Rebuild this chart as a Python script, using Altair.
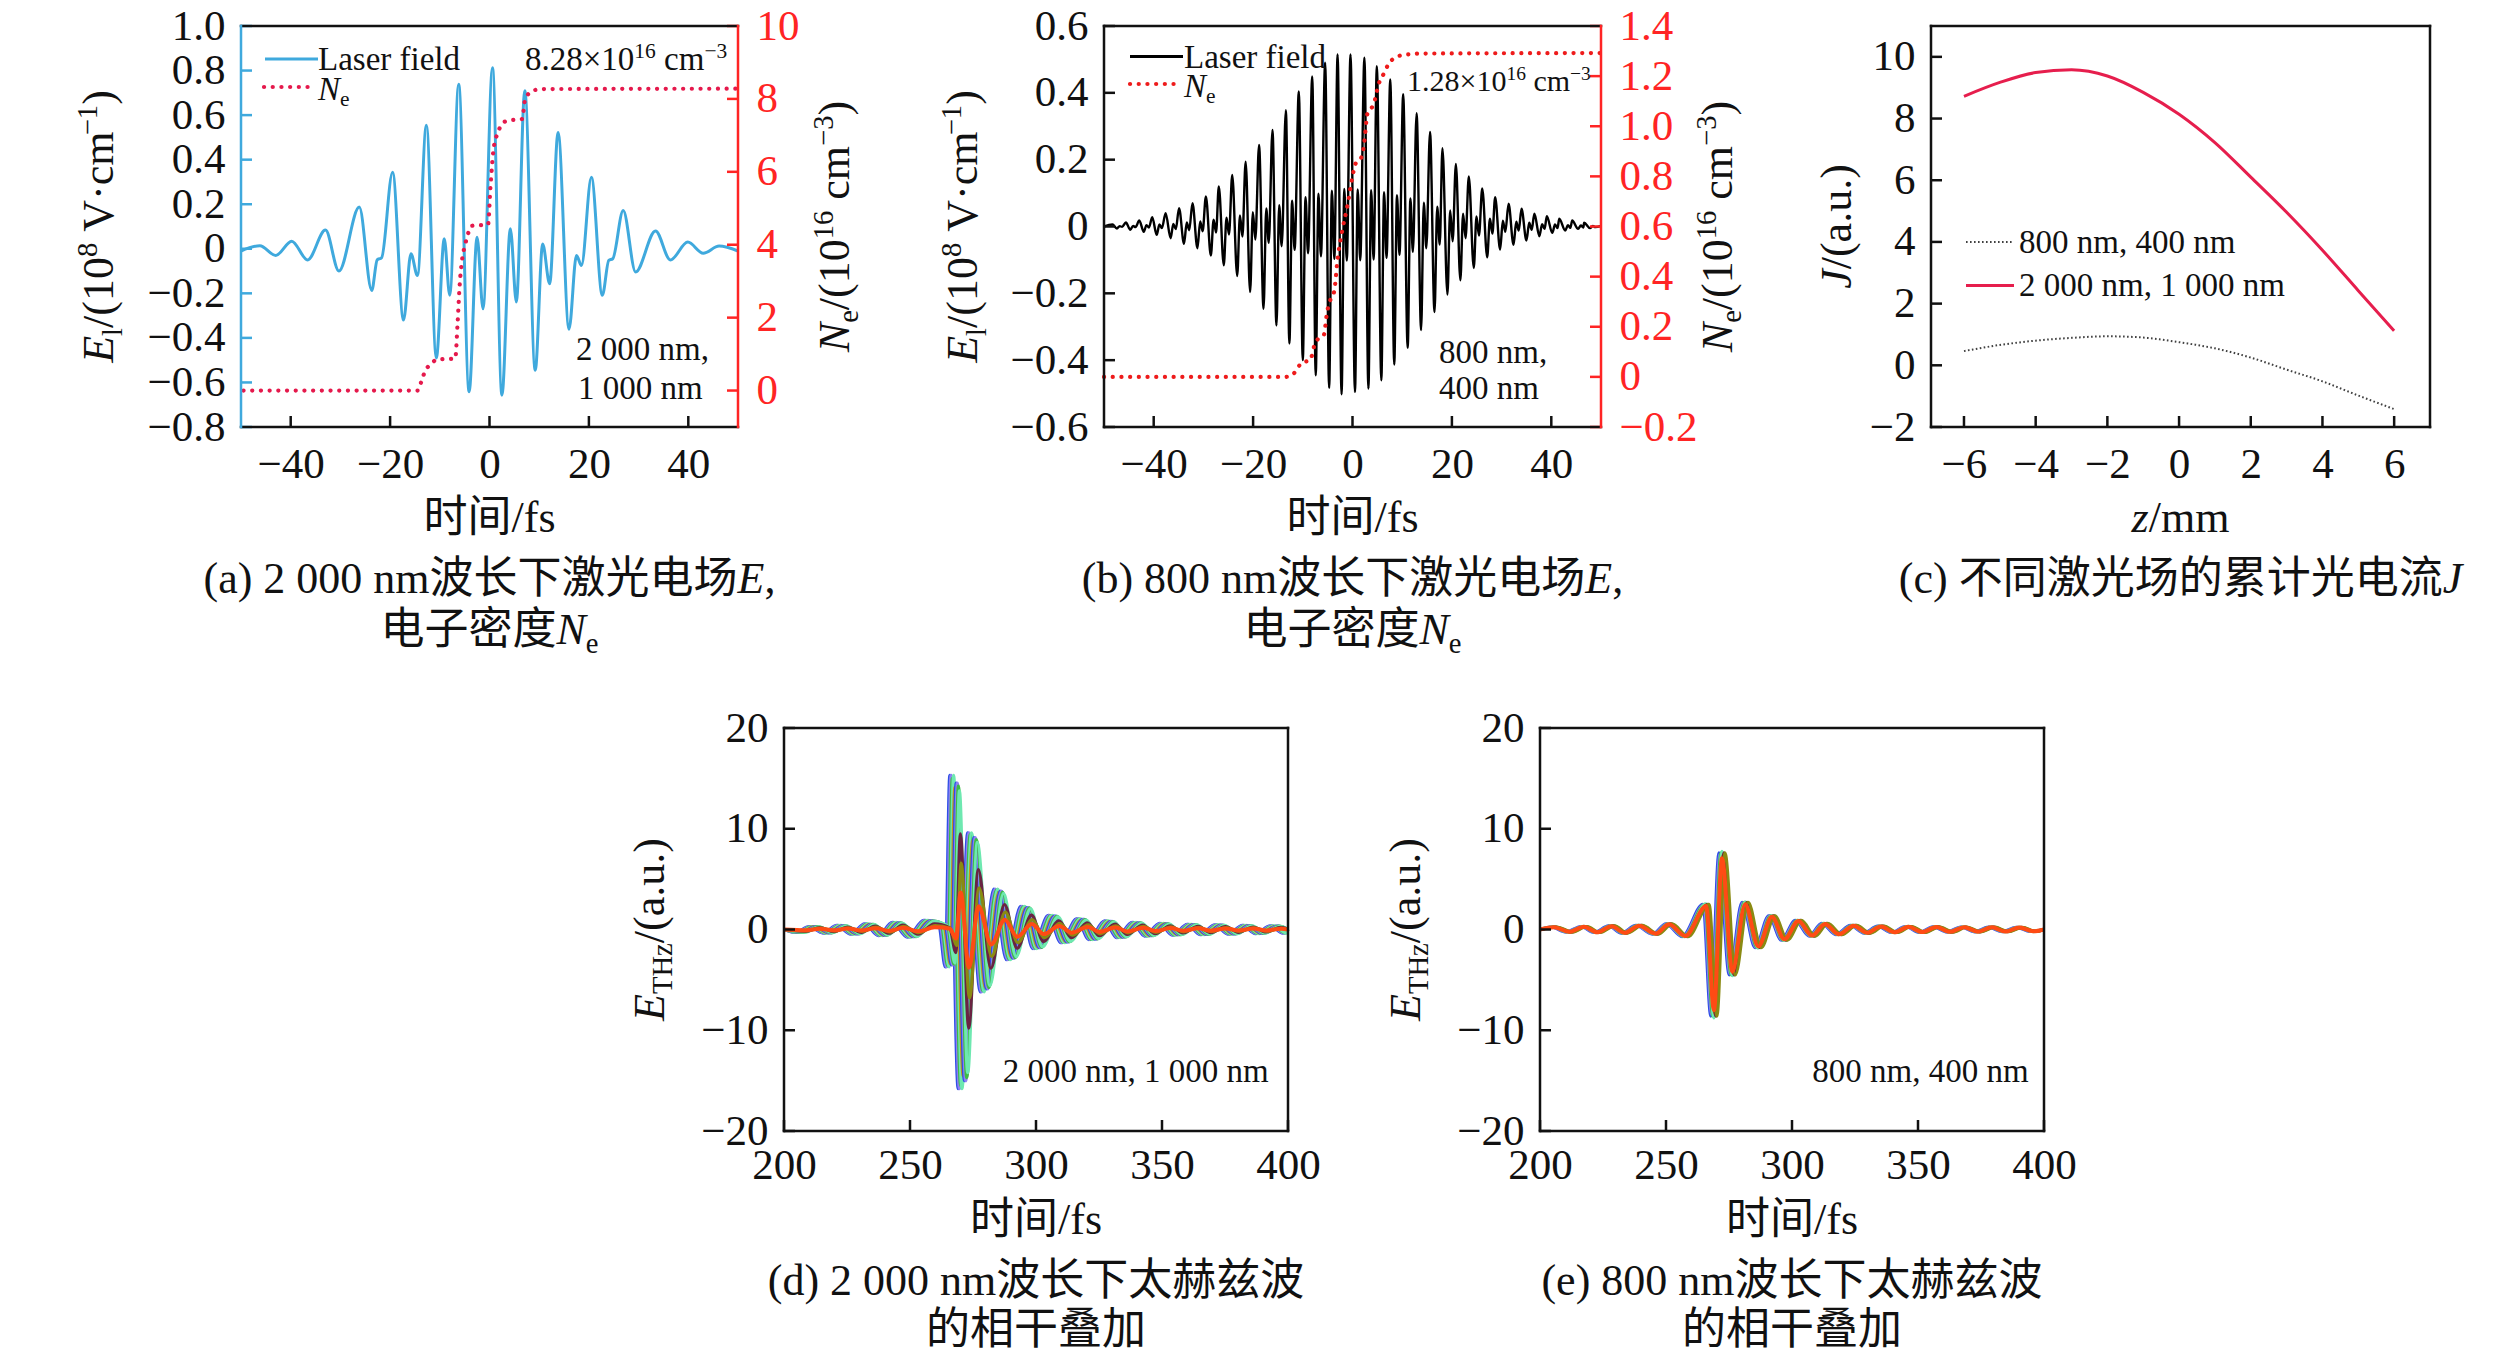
import altair as alt
import pandas as pd

W, H = 2504, 1346
OFF = 8
SERIF = "Liberation Serif"
FONT = "Liberation Serif, Noto Sans CJK SC"
INK = "#111111"

# ---------------- panel (a): laser field 2000 nm + 1000 nm (extrema) -------------
A_T = [-50.0, -46.2, -43.0, -39.8, -36.6, -33.0, -30.3, -26.2, -23.7, -22.6, -21.7, -19.5,
       -17.3, -15.8, -14.5, -12.7, -10.7, -9.1, -8.0, -6.2, -4.1, -2.5, -1.3, 0.6, 2.5, 4.2,
       5.4, 7.1, 9.2, 10.7, 12.1, 13.8, 16.0, 17.5, 18.5, 20.5, 22.7, 24.0, 24.8, 26.9, 29.4,
       33.4, 36.4, 39.9, 43.0, 46.2, 50.0]
A_E = [-0.010, 0.014, -0.030, 0.034, -0.050, 0.084, -0.100, 0.187, -0.187, -0.050, -0.040, 0.343,
       -0.320, -0.022, -0.120, 0.555, -0.490, 0.045, -0.209, 0.739, -0.642, 0.052, -0.269, 0.813, -0.657, 0.090,
       -0.239, 0.709, -0.545, 0.022, -0.157, 0.522, -0.361, -0.030, -0.075, 0.321, -0.209, -0.052, -0.045, 0.172, -0.104,
       0.080, -0.050, 0.030, -0.020, 0.012, -0.010]
A_NE_T = [-49.5, -14.4, -13.6, -12.9, -11.8, -10.6, -6.9, -6.4, -6.0, -5.5, -4.9, -4.2, -3.5, -0.3,
          0.2, 0.8, 1.6, 2.5, 3.5, 6.6, 7.1, 7.9, 9.0, 11.0, 49.5]
A_NE_V = [0.0, 0.0, 0.3, 0.55, 0.72, 0.85, 0.88, 1.9, 2.9, 3.6, 4.0, 4.35, 4.52, 4.55,
          5.6, 6.6, 7.05, 7.3, 7.4, 7.45, 7.95, 8.15, 8.24, 8.27, 8.28]

# ---------------- panel (b): laser field 800 nm + 400 nm ----------------
B_PEAK_T = [-48.3, -45.6, -42.9, -40.3, -37.6, -34.9, -32.2, -29.5, -26.9, -24.2, -21.5, -18.8, -16.1,
            -13.4, -10.8, -8.1, -5.5, -3.0, -0.4, 2.4, 4.9, 7.6, 10.2, 12.9, 15.6, 18.1, 20.8, 23.4,
            26.1, 28.7, 31.4, 34.0, 36.6, 39.1, 41.6, 44.2, 46.6]
B_PEAK_V = [0.006, 0.012, 0.018, 0.028, 0.040, 0.055, 0.070, 0.090, 0.120, 0.154, 0.194, 0.244, 0.289,
            0.348, 0.404, 0.449, 0.490, 0.515, 0.515, 0.505, 0.480, 0.440, 0.396, 0.339, 0.283, 0.234,
            0.187, 0.150, 0.114, 0.088, 0.068, 0.053, 0.038, 0.031, 0.023, 0.018, 0.011]
B_TROUGH_T = [-47.4, -44.7, -42.0, -39.4, -36.6, -33.9, -31.2, -28.5, -25.9, -23.2, -20.6, -17.9, -15.3,
              -12.7, -10.0, -7.4, -4.7, -2.2, 0.5, 3.2, 5.8, 8.4, 11.1, 13.8, 16.5, 19.1, 21.7, 24.4,
              27.1, 29.7, 32.4, 35.0, 37.6, 40.2, 42.8, 45.4, 47.8]
B_TROUGH_V = [-0.006, -0.010, -0.016, -0.025, -0.035, -0.052, -0.065, -0.087, -0.116, -0.148, -0.196,
              -0.246, -0.296, -0.350, -0.400, -0.445, -0.483, -0.502, -0.495, -0.485, -0.460, -0.413,
              -0.363, -0.310, -0.256, -0.204, -0.161, -0.124, -0.092, -0.069, -0.055, -0.042, -0.029,
              -0.019, -0.012, -0.007, -0.005]
B_BUMP_T = [-46.85, -44.15, -41.45, -38.85, -36.05, -33.35, -30.65, -27.95, -25.35, -22.65, -20.05,
            -17.35, -14.75, -12.15, -9.45, -6.85, -4.15, -1.65, 1.05, 3.75, 6.35, 8.95, 11.65, 14.35,
            17.05, 19.65, 22.25, 24.95, 27.65, 30.25, 32.95, 35.55, 38.15, 40.75, 43.35, 45.95, 48.35]
B_BUMP_V = [0.001, 0.002, 0.004, 0.006, 0.008, 0.012, 0.015, 0.020, 0.026, 0.033, 0.043, 0.054, 0.064,
            0.077, 0.088, 0.098, 0.107, 0.112, 0.111, 0.109, 0.103, 0.094, 0.084, 0.071, 0.059, 0.048,
            0.038, 0.030, 0.023, 0.017, 0.014, 0.011, 0.007, 0.006, 0.004, 0.003, 0.002]
B_DIP_T = [-46.35, -43.65, -40.95, -38.35, -35.55, -32.85, -30.15, -27.45, -24.85, -22.15, -19.55,
           -16.85, -14.25, -11.65, -8.95, -6.35, -3.65, -1.15, 1.55, 4.25, 6.85, 9.45, 12.15, 14.85,
           17.55, 20.15, 22.75, 25.45, 28.15, 30.75, 33.45, 36.05, 38.65, 41.25, 43.85, 46.45, 48.85]
B_DIP_V = [-0.001, -0.002, -0.003, -0.005, -0.008, -0.011, -0.014, -0.018, -0.024, -0.030, -0.039,
           -0.049, -0.059, -0.070, -0.080, -0.089, -0.097, -0.102, -0.101, -0.099, -0.094, -0.085,
           -0.076, -0.065, -0.054, -0.044, -0.035, -0.027, -0.021, -0.016, -0.012, -0.010, -0.007,
           -0.005, -0.004, -0.003, -0.002]
B_NE_T = [-50.0, -13.5, -12.0, -11.2, -10.3, -8.5, -7.6, -7.0, -5.8, -5.1, -4.4, -3.7, -3.0, -2.0,
          -1.0, 0.0, 0.6, 1.9, 2.4, 3.0, 4.3, 5.3, 6.3, 7.3, 8.7, 10.4, 14.0, 50.0]
B_NE_V = [0.0, 0.0, 0.01, 0.03, 0.055, 0.068, 0.13, 0.15, 0.165, 0.26, 0.31, 0.34, 0.47, 0.59,
          0.685, 0.80, 0.85, 0.88, 0.94, 1.05, 1.09, 1.17, 1.21, 1.25, 1.275, 1.285, 1.29, 1.292]

# ---------------- panel (c): accumulated photocurrent ----------------
C_Z = [-6, -5, -4, -3, -2, -1, 0, 1, 2, 3, 4, 5, 6]
C_J2000 = [8.72, 9.17, 9.49, 9.58, 9.38, 8.85, 8.14, 7.22, 6.10, 4.96, 3.73, 2.42, 1.12]
C_J800 = [0.46, 0.66, 0.80, 0.89, 0.94, 0.90, 0.75, 0.55, 0.25, -0.14, -0.52, -0.98, -1.42]

# ---------------- panel (d): THz waveform, 2000 nm (leading curve extrema) ----------------
D_T = [204.5, 210.0, 215.5, 221.0, 226.5, 232.0, 237.5, 243.0, 249.0, 255.5, 261.5, 264.0, 265.8,
       269.1, 272.9, 277.9, 283.3, 288.3, 294.0, 298.8, 304.9, 309.9, 316.2, 321.0, 327.2, 332.0,
       338.2, 343.1, 349.1, 354.1, 360.1, 365.1, 371.0, 376.1, 382.0, 387.1, 393.0, 398.0]
D_E = [-0.3, 0.3, -0.35, 0.4, -0.45, 0.55, -0.6, 0.7, -0.75, 0.9, 0.3, -3.7, 15.3,
       -15.8, 9.6, -6.2, 4.0, -3.0, 2.3, -1.9, 1.4, -1.3, 1.05, -1.0, 0.85, -0.8,
       0.7, -0.65, 0.6, -0.55, 0.5, -0.5, 0.45, -0.45, 0.4, -0.4, 0.35, -0.35]
D_SHIFT = [0.0, 0.5, 1.0, 1.5, 2.0, 2.5, 3.0, 3.4, 3.8, 4.2, 4.5]
D_SCALE = [1.0, 1.0, 0.98, 1.0, 0.92, 0.95, 0.95, 0.93, 0.90, 0.62, 0.43]
D_ORANGE = (4.3, 0.24)

# ---------------- panel (e): THz waveform, 800 nm ----------------
E_T = [204.3, 210.4, 216.2, 221.4, 227.2, 232.3, 238.1, 244.6, 250.0, 256.4, 264.7, 267.8, 271.0,
       275.1, 280.2, 285.4, 290.8, 295.8, 301.3, 306.8, 311.8, 317.4, 323.2, 328.6, 334.0, 339.5,
       345.0, 350.5, 356.0, 361.5, 367.0, 372.5, 378.0, 383.5, 389.0, 394.5]
E_E = [0.25, -0.25, 0.3, -0.3, 0.35, -0.35, 0.4, -0.45, 0.55, -0.7, 2.5, -8.6, 7.6,
       -4.5, 2.7, -1.8, 1.35, -1.05, 0.9, -0.65, 0.6, -0.5, 0.4, -0.35, 0.33, -0.3,
       0.3, -0.28, 0.27, -0.25, 0.25, -0.23, 0.23, -0.22, 0.22, -0.2]
E_SHIFT = [0.0, 0.4, 0.8, 1.2, 1.6, 2.0, 2.4]
E_SCALE = [1.0, 0.98, 1.0, 1.02, 0.97, 1.0, 1.0]
E_ORANGE = (1.2, 0.93)

# ---------------- tick values ----------------
AB_XTICKS = [-40, -20, 0, 20, 40]
A_YL_TICKS = [-0.8, -0.6, -0.4, -0.2, 0, 0.2, 0.4, 0.6, 0.8, 1.0]
A_YR_TICKS = [0, 2, 4, 6, 8, 10]
B_YL_TICKS = [-0.6, -0.4, -0.2, 0, 0.2, 0.4, 0.6]
B_YR_TICKS = [-0.2, 0, 0.2, 0.4, 0.6, 0.8, 1.0, 1.2, 1.4]
C_XTICKS = [-6, -4, -2, 0, 2, 4, 6]
C_YTICKS = [-2, 0, 2, 4, 6, 8, 10]
DE_XTICKS = [200, 250, 300, 350, 400]
DE_YTICKS = [-20, -10, 0, 10, 20]

# ---------------- colours ----------------
A_BLUE = "#3FA9DD"
A_NE = "#E5194C"
B_NE = "#EE1B1B"
RED_AX = "#FF2424"
C_RED = "#E61E4D"
C_DOT = "#404040"
BLUE, LAV, GRN, MINT, GOLD, MAR, OLV, ORG = ("#2E4FE6", "#8E7FF2", "#3DBB45", "#6EE8B0",
                                            "#C8901E", "#6A2342", "#8A8A12", "#FF4B14")
D_COLORS = [BLUE, LAV, GRN, MINT, GOLD, BLUE, LAV, GRN, MINT, MAR, OLV]
E_COLORS = [BLUE, LAV, GRN, MINT, GOLD, MAR, OLV]

# ---------------- layout (reference pixels) ----------------
BOX = {"a": (241, 738, 26, 427), "b": (1104, 1601, 26, 427), "c": (1931, 2430, 26, 427),
       "d": (784, 1288, 728, 1131), "e": (1540, 2044, 728, 1131)}


def box(p):
    x0, x1, y0, y1 = BOX[p]
    return x0 - OFF, x1 - OFF, y0 - OFF, y1 - OFF


def sx(p, dom):
    x0, x1, _, _ = box(p)
    return alt.Scale(domain=dom, range=[x0, x1], nice=False, zero=False)


def sy(p, dom):
    _, _, y0, y1 = box(p)
    return alt.Scale(domain=dom, range=[y1, y0], nice=False, zero=False)


BASE_AX = dict(labelFont=SERIF, labelFontSize=43, domain=False, ticks=False, tickSize=0, grid=False,
               labelFlush=False, labelOverlap=False, title=None)
DEC = "datum.value == 0 ? '0' : format(datum.value, '.1f')"


def ax_bottom(p, vals, pad):
    _, _, _, y1 = box(p)
    return alt.Axis(orient="bottom", offset=y1 - H, values=vals, labelPadding=pad,
                    labelColor=INK, format="d", **BASE_AX)


def ax_left(p, vals, expr=None):
    x0, _, _, _ = box(p)
    kw = dict(orient="left", offset=-x0, values=vals, labelPadding=16, labelColor=INK)
    if expr:
        kw["labelExpr"] = expr
    else:
        kw["format"] = "d"
    return alt.Axis(**kw, **BASE_AX)


def ax_right(p, vals, color, expr=None):
    _, x1, _, _ = box(p)
    kw = dict(orient="right", offset=x1 - W, values=vals, labelPadding=18, labelColor=color)
    if expr:
        kw["labelExpr"] = expr
    else:
        kw["format"] = "d"
    return alt.Axis(**kw, **BASE_AX)


def tick_layer(p, side, vals, scale, color):
    x0, x1, y0, y1 = box(p)
    df = pd.DataFrame({"v": vals})
    m = alt.Chart(df).mark_rule(color=color, strokeWidth=2.5)
    if side == "bottom":
        return m.encode(x=alt.X("v:Q", scale=scale, axis=None), y=alt.value(y1), y2=alt.value(y1 - 11))
    if side == "left":
        return m.encode(y=alt.Y("v:Q", scale=scale, axis=None), x=alt.value(x0), x2=alt.value(x0 + 11))
    return m.encode(y=alt.Y("v:Q", scale=scale, axis=None), x=alt.value(x1), x2=alt.value(x1 - 11))


layers = []

# ---- panel (a)
AX, AYL, AYR = sx("a", [-50, 50]), sy("a", [-0.8, 1.0]), sy("a", [-1, 10])
layers.append(alt.Chart(pd.DataFrame({"t": A_T, "e": A_E})).mark_line(
    color=A_BLUE, strokeWidth=3, interpolate="monotone").encode(
    x=alt.X("t:Q", scale=AX, axis=ax_bottom("a", AB_XTICKS, 16)),
    y=alt.Y("e:Q", scale=AYL, axis=ax_left("a", A_YL_TICKS, DEC))))
layers.append(alt.Chart(pd.DataFrame({"t": A_NE_T, "n": A_NE_V})).mark_line(
    color=A_NE, strokeWidth=4.2, strokeDash=[0.1, 8.6], strokeCap="round", interpolate="monotone").encode(
    x=alt.X("t:Q", scale=AX, axis=None),
    y=alt.Y("n:Q", scale=AYR, axis=ax_right("a", A_YR_TICKS, RED_AX))))
layers += [tick_layer("a", "bottom", AB_XTICKS, AX, INK),
           tick_layer("a", "left", A_YL_TICKS, AYL, A_BLUE),
           tick_layer("a", "right", A_YR_TICKS, AYR, RED_AX)]

# ---- panel (b)
b_t, b_v = [-50.0], [0.0]
for k in range(len(B_PEAK_T)):
    b_t += [B_PEAK_T[k], B_TROUGH_T[k], B_BUMP_T[k], B_DIP_T[k]]
    b_v += [B_PEAK_V[k], B_TROUGH_V[k], B_BUMP_V[k], B_DIP_V[k]]
b_t.append(50.0)
b_v.append(0.002)
BX, BYL, BYR = sx("b", [-50, 50]), sy("b", [-0.6, 0.6]), sy("b", [-0.2, 1.4])
layers.append(alt.Chart(pd.DataFrame({"t": b_t, "e": b_v})).mark_line(
    color="#000000", strokeWidth=2.4, interpolate="monotone").encode(
    x=alt.X("t:Q", scale=BX, axis=ax_bottom("b", AB_XTICKS, 16)),
    y=alt.Y("e:Q", scale=BYL, axis=ax_left("b", B_YL_TICKS, DEC))))
layers.append(alt.Chart(pd.DataFrame({"t": B_NE_T, "n": B_NE_V})).mark_line(
    color=B_NE, strokeWidth=4.2, strokeDash=[0.1, 8.6], strokeCap="round", interpolate="monotone").encode(
    x=alt.X("t:Q", scale=BX, axis=None),
    y=alt.Y("n:Q", scale=BYR, axis=ax_right("b", B_YR_TICKS, RED_AX, DEC))))
layers += [tick_layer("b", "bottom", AB_XTICKS, BX, INK),
           tick_layer("b", "left", B_YL_TICKS, BYL, INK),
           tick_layer("b", "right", B_YR_TICKS, BYR, RED_AX)]

# ---- panel (c)
CX, CY = sx("c", [-6.92, 7.0]), sy("c", [-2, 11])
layers.append(alt.Chart(pd.DataFrame({"z": C_Z, "j": C_J2000})).mark_line(
    color=C_RED, strokeWidth=3, interpolate="monotone").encode(
    x=alt.X("z:Q", scale=CX, axis=ax_bottom("c", C_XTICKS, 16)),
    y=alt.Y("j:Q", scale=CY, axis=ax_left("c", C_YTICKS))))
layers.append(alt.Chart(pd.DataFrame({"z": C_Z, "j": C_J800})).mark_line(
    color=C_DOT, strokeWidth=2, strokeDash=[1.6, 2.4], interpolate="monotone").encode(
    x=alt.X("z:Q", scale=CX, axis=None), y=alt.Y("j:Q", scale=CY, axis=None)))
layers += [tick_layer("c", "bottom", C_XTICKS, CX, INK), tick_layer("c", "left", C_YTICKS, CY, INK)]


# ---- panels (d), (e)
def bundle(base_t, base_e, shifts, scales, colors, tag):
    rows = []
    for i, (s, a, c) in enumerate(zip(shifts, scales, colors)):
        cid = f"{tag}{i:02d}"
        rows.append(dict(cid=cid, col=c, t=200.0, e=0.0))
        for t, e in zip(base_t, base_e):
            if 200 < t + s < 400:
                rows.append(dict(cid=cid, col=c, t=t + s, e=e * a))
        rows.append(dict(cid=cid, col=c, t=400.0, e=0.0))
    return pd.DataFrame(rows)


for p, bt, be, shifts, scales, colors, orange in [
        ("d", D_T, D_E, D_SHIFT, D_SCALE, D_COLORS, D_ORANGE),
        ("e", E_T, E_E, E_SHIFT, E_SCALE, E_COLORS, E_ORANGE)]:
    PX, PY = sx(p, [200, 400]), sy(p, [-20, 20])
    layers.append(alt.Chart(bundle(bt, be, shifts, scales, colors, p)).mark_line(
        strokeWidth=3.2, interpolate="monotone").encode(
        x=alt.X("t:Q", scale=PX, axis=ax_bottom(p, DE_XTICKS, 13)),
        y=alt.Y("e:Q", scale=PY, axis=ax_left(p, DE_YTICKS)),
        color=alt.Color("col:N", scale=None), detail="cid:N"))
    layers.append(alt.Chart(bundle(bt, be, [orange[0]], [orange[1]], [ORG], p + "o")).mark_line(
        strokeWidth=4, color=ORG, interpolate="monotone").encode(
        x=alt.X("t:Q", scale=PX, axis=None), y=alt.Y("e:Q", scale=PY, axis=None)))
    layers += [tick_layer(p, "bottom", DE_XTICKS, PX, INK), tick_layer(p, "left", DE_YTICKS, PY, INK)]

# ---- box edges
edges = []
for p, lc, rc in [("a", A_BLUE, RED_AX), ("b", INK, RED_AX), ("c", INK, INK), ("d", INK, INK), ("e", INK, INK)]:
    x0, x1, y0, y1 = box(p)
    edges += [dict(x=x0, x2=x1, y=y0, y2=y0, c=INK), dict(x=x0, x2=x1, y=y1, y2=y1, c=INK),
              dict(x=x0, x2=x0, y=y0, y2=y1, c=lc), dict(x=x1, x2=x1, y=y0, y2=y1, c=rc)]
layers.append(alt.Chart(pd.DataFrame(edges)).mark_rule(strokeWidth=2.5, strokeCap="square").encode(
    x=alt.X("x:Q", scale=None, axis=None), x2="x2:Q",
    y=alt.Y("y:Q", scale=None, axis=None), y2="y2:Q",
    color=alt.Color("c:N", scale=None)))

# ---- legend samples
samples = [dict(x=265, x2=318, y=59, c=A_BLUE), dict(x=1130, x2=1183, y=56.5, c="#000000"),
           dict(x=1966, x2=2014, y=285.5, c=C_RED)]
for s in samples:
    s["x"] -= OFF; s["x2"] -= OFF; s["y"] -= OFF
layers.append(alt.Chart(pd.DataFrame(samples)).mark_rule(strokeWidth=3).encode(
    x=alt.X("x:Q", scale=None, axis=None), x2="x2:Q", y=alt.Y("y:Q", scale=None, axis=None),
    color=alt.Color("c:N", scale=None)))
for (xa, xb, yy, col, sw, dash) in [(264, 312, 87, A_NE, 4.2, [0.1, 8.6]),
                                    (1130, 1177, 84, B_NE, 4.2, [0.1, 8.6]),
                                    (1966, 2014, 242, C_DOT, 2, [1.6, 2.4])]:
    layers.append(alt.Chart(pd.DataFrame({"k": [0]})).mark_rule(
        color=col, strokeWidth=sw, strokeDash=dash, strokeCap="round" if sw > 3 else "butt").encode(
        x=alt.value(xa - OFF), x2=alt.value(xb - OFF), y=alt.value(yy - OFF)))

# ---- rich text (segments laid out with Times-compatible advance widths)
NORM = {" ": 250, "(": 333, ")": 333, "/": 278, ".": 250, ",": 250, "×": 564, "−": 564, "-": 333,
        "·": 250, "a": 444, "c": 444, "d": 500, "e": 444, "f": 333, "i": 278, "l": 278, "m": 778,
        "n": 500, "r": 333, "s": 389, "u": 500, "z": 444, "E": 611, "H": 722, "J": 389, "L": 611,
        "N": 722, "T": 611, "V": 722}
ITAL = {"E": 611, "N": 667, "J": 444, "z": 389}
rows = []


def seg_size(style, fs):
    return fs * 0.65 if style in ("b", "p") else fs


def seg_w(text, style, fs):
    tbl = ITAL if style == "i" else NORM
    tot = 0
    for ch in text:
        tot += 1000 if ord(ch) >= 0x2E80 else tbl.get(ch, NORM.get(ch, 500))
    return tot / 1000 * seg_size(style, fs)


def rich(segs, fs, pos, base, align="left", rot=False, color=INK):
    widths = [seg_w(t, s, fs) for t, s in segs]
    total = sum(widths)
    cur = -total / 2 if align == "center" else (-total if align == "right" else 0)
    for (t, s), w in zip(segs, widths):
        size = seg_size(s, fs)
        shift = 0.2 * fs if s == "b" else (-0.36 * fs if s == "p" else 0)
        lead = (len(t) - len(t.lstrip(" "))) * 0.25 * size
        txt = t.strip(" ")
        if txt:
            if rot:
                x, y, ang = base + shift, pos - (cur + lead), 270
            else:
                x, y, ang = pos + cur + lead, base + shift, 0
            rows.append(dict(x=x - OFF, y=y - OFF, text=txt, size=size, it=(s == "i"), angle=ang, color=color))
        cur += w


TITLE_EL = [("E", "i"), ("l", "b"), ("/(10", "n"), ("8", "p"), (" V·cm", "n"), ("−1", "p"), (")", "n")]
TITLE_NE = [("N", "i"), ("e", "b"), ("/(10", "n"), ("16", "p"), (" cm", "n"), ("−3", "p"), (")", "n")]
TITLE_THZ = [("E", "i"), ("THz", "b"), ("/(a.u.)", "n")]
NE_SEGS = [("N", "i"), ("e", "b")]

# (a)
rich(TITLE_EL, 44, 226.5, 113, "center", rot=True)
rich(TITLE_NE, 44, 226.5, 849, "center", rot=True)
rich([("时间/fs", "n")], 44, 489.5, 532, "center")
rich([("(a) 2 000 nm波长下激光电场", "n"), ("E", "i"), (",", "n")], 44, 489.5, 592.8, "center")
rich([("电子密度", "n")] + NE_SEGS, 44, 489.5, 644.3, "center")
rich([("Laser field", "n")], 33, 318, 70.3)
rich(NE_SEGS, 33, 318, 99.5)
rich([("8.28×10", "n"), ("16", "p"), (" cm", "n"), ("−3", "p")], 33, 525, 70.3)
rich([("2 000 nm,", "n")], 33, 576, 360)
rich([("1 000 nm", "n")], 33, 578, 399)
# (b)
rich(TITLE_EL, 44, 226.5, 977, "center", rot=True)
rich(TITLE_NE, 44, 226.5, 1732, "center", rot=True)
rich([("时间/fs", "n")], 44, 1352.5, 532, "center")
rich([("(b) 800 nm波长下激光电场", "n"), ("E", "i"), (",", "n")], 44, 1352.5, 592.8, "center")
rich([("电子密度", "n")] + NE_SEGS, 44, 1352.5, 644.3, "center")
rich([("Laser field", "n")], 33, 1184, 67.7)
rich(NE_SEGS, 33, 1184, 96.7)
rich([("1.28×10", "n"), ("16", "p"), (" cm", "n"), ("−3", "p")], 30, 1407, 91)
rich([("800 nm,", "n")], 33, 1439, 362.7)
rich([("400 nm", "n")], 33, 1439, 399.3)
# (c)
rich([("J", "i"), ("/(a.u.)", "n")], 44, 226.5, 1851, "center", rot=True)
rich([("z", "i"), ("/mm", "n")], 44, 2180.5, 532, "center")
rich([("(c) 不同激光场的累计光电流", "n"), ("J", "i")], 44, 2180.5, 592.8, "center")
rich([("800 nm, 400 nm", "n")], 33, 2019, 253)
rich([("2 000 nm, 1 000 nm", "n")], 33, 2019, 296)
# (d)
rich(TITLE_THZ, 44, 929.5, 663.5, "center", rot=True)
rich([("时间/fs", "n")], 44, 1036, 1233.8, "center")
rich([("(d) 2 000 nm波长下太赫兹波", "n")], 44, 1036, 1294.6, "center")
rich([("的相干叠加", "n")], 44, 1036, 1344.3, "center")
rich([("2 000 nm, 1 000 nm", "n")], 33, 1268.6, 1081.5, "right")
# (e)
rich(TITLE_THZ, 44, 929.5, 1419.5, "center", rot=True)
rich([("时间/fs", "n")], 44, 1792, 1233.8, "center")
rich([("(e) 800 nm波长下太赫兹波", "n")], 44, 1792, 1294.6, "center")
rich([("的相干叠加", "n")], 44, 1792, 1344.3, "center")
rich([("800 nm, 400 nm", "n")], 33, 2028.7, 1081.5, "right")

txt = pd.DataFrame(rows)
for italic in (False, True):
    sub = txt[txt["it"] == italic].drop(columns=["it"])
    mk = dict(align="left", baseline="alphabetic", font=FONT)
    if italic:
        mk["fontStyle"] = "italic"
    layers.append(alt.Chart(sub).mark_text(**mk).encode(
        x=alt.X("x:Q", scale=None, axis=None), y=alt.Y("y:Q", scale=None, axis=None),
        text="text:N", size=alt.Size("size:Q", scale=None, legend=None),
        angle=alt.Angle("angle:Q", scale=None, legend=None),
        color=alt.Color("color:N", scale=None, legend=None)))

chart = alt.layer(*layers).resolve_scale(x="independent", y="independent").properties(
    width=W, height=H, autosize=alt.AutoSizeParams(type="none"), padding=0, background="white"
).configure_view(strokeWidth=0)

chart.save("out.html", embed_options={"renderer": "svg", "actions": False})
